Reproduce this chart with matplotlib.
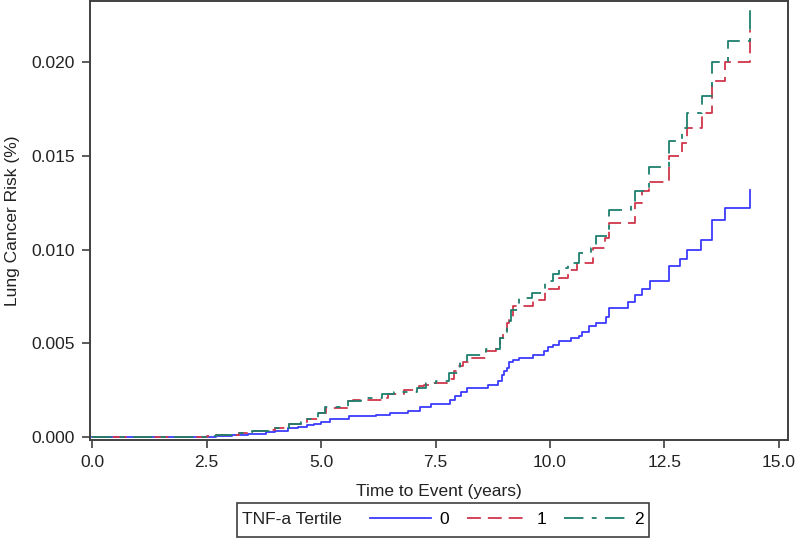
import numpy as np
import matplotlib
matplotlib.use("Agg")
import matplotlib.pyplot as plt
import matplotlib.ticker as mticker
from matplotlib.patches import Rectangle

plt.rcParams["font.family"] = ["Liberation Sans", "DejaVu Sans"]
plt.rcParams["lines.scale_dashes"] = False

# tertile 0
t0 = [0, 2.5, 2.7, 3.05, 3.4, 3.8, 4.0, 4.28, 4.5, 4.7, 4.85, 5.0, 5.2, 5.6, 6.2,
      6.5, 6.9, 7.17, 7.4, 7.82, 7.93, 8.05, 8.18, 8.65, 8.87, 8.95, 9.0, 9.05,
      9.1, 9.2, 9.33, 9.63, 9.87, 9.95, 10.06, 10.2, 10.45, 10.63, 10.7, 10.85,
      11.0, 11.22, 11.28, 11.7, 11.86, 12.0, 12.18, 12.6, 12.85, 13.0, 13.3,
      13.53, 13.83, 14.37]
r0 = [0, 0.00003, 0.00007, 0.0001, 0.00015, 0.00027, 0.00035, 0.00048, 0.00055,
      0.00064, 0.00072, 0.0008, 0.00096, 0.0011, 0.0012, 0.0013, 0.0014, 0.0016,
      0.00176, 0.002, 0.0022, 0.0024, 0.0026, 0.0028, 0.003, 0.0033, 0.0035,
      0.0037, 0.004, 0.0041, 0.0042, 0.0044, 0.0046, 0.0048, 0.0049, 0.0051,
      0.0053, 0.0054, 0.0056, 0.0059, 0.0061, 0.0064, 0.0069, 0.0072, 0.0076,
      0.0079, 0.0083, 0.0091, 0.0095, 0.0100, 0.0105, 0.01157, 0.0122, 0.0132]

# tertile 1
t1 = [0, 2.5, 2.7, 3.2, 3.5, 3.9, 4.0, 4.3, 4.57, 4.7, 4.93, 5.1, 5.58, 5.7,
      6.34, 6.45, 6.8, 7.14, 7.25, 7.42, 7.82, 7.9, 8.0, 8.1, 8.25, 8.6, 8.83,
      8.9, 8.97, 9.05, 9.1, 9.2, 9.63, 9.9, 10.2, 10.4, 10.6, 10.95, 11.2, 11.3,
      11.86, 12.0, 12.16, 12.6, 12.88, 12.99, 13.33, 13.53, 13.83, 14.37]
r1 = [0, 0.00005, 0.0001, 0.0002, 0.0003, 0.0004, 0.0005, 0.0007, 0.0008,
      0.00096, 0.0013, 0.00155, 0.0019, 0.002, 0.0021, 0.0023, 0.0025, 0.0027,
      0.0028, 0.0029, 0.0031, 0.0035, 0.0038, 0.0040, 0.0042, 0.0046, 0.0049,
      0.0053, 0.0057, 0.0061, 0.0064, 0.0070, 0.0073, 0.0079, 0.0085, 0.0089,
      0.0093, 0.0101, 0.0106, 0.0114, 0.0125, 0.0131, 0.0136, 0.0150, 0.0157,
      0.0165, 0.0173, 0.0190, 0.0200, 0.0217]

# tertile 2
t2 = [0, 2.5, 2.7, 3.2, 3.5, 3.9, 4.0, 4.3, 4.57, 4.7, 4.93, 5.08, 5.58, 5.87,
      6.34, 6.6, 7.1, 7.3, 7.5, 7.8, 8.03, 8.18, 8.6, 8.9, 9.05, 9.15, 9.33,
      9.6, 9.9, 10.06, 10.2, 10.39, 10.63, 10.9, 11.0, 11.3, 11.78, 11.86, 12.16,
      12.6, 12.88, 12.99, 13.33, 13.53, 13.9, 14.37]
r2 = [0, 0.00005, 0.0001, 0.0002, 0.0003, 0.0004, 0.0005, 0.0007, 0.0008,
      0.00096, 0.0013, 0.0016, 0.0019, 0.0021, 0.0023, 0.0024, 0.0026, 0.0029,
      0.0030, 0.0034, 0.0040, 0.0044, 0.0047, 0.0053, 0.0062, 0.0068, 0.0074,
      0.0077, 0.0083, 0.0087, 0.0090, 0.0093, 0.0098, 0.0101, 0.0107, 0.0121,
      0.0125, 0.0131, 0.0144, 0.0158, 0.0165, 0.0173, 0.0182, 0.0200, 0.0211,
      0.0229]

labels = ["0", "1", "2"]
colors = ["#3b3bff", "#d0364a", "#1e7f6e"]
dashes = [None, (10, 5), (14, 6, 3.5, 6)]

fig = plt.figure(figsize=(8, 5.4), dpi=100)
ax = fig.add_axes([0.1125, 0.185, 0.8725, 0.813])

handles = []
for t, r, c, d, lab in zip([t0, t1, t2], [r0, r1, r2], colors, dashes, labels):
    line, = ax.plot(t, r, drawstyle="steps-post", color=c, linewidth=1.3, label=lab)
    if d is not None:
        line.set_dashes(d)
    handles.append(line)

ax.set_xlim(-0.05, 15.2)
ax.set_ylim(-0.00016, 0.02325)
ax.xaxis.set_major_locator(mticker.MultipleLocator(2.5))
ax.yaxis.set_major_locator(mticker.MultipleLocator(0.005))
ax.xaxis.set_major_formatter(mticker.FormatStrFormatter("%.1f"))
ax.yaxis.set_major_formatter(mticker.FormatStrFormatter("%.3f"))

for s in ax.spines.values():
    s.set_color("#404040")
    s.set_linewidth(1.4)
ax.tick_params(direction="out", length=6, width=1.2, color="#404040",
               labelsize=12.5, labelcolor="#222222", pad=5)

ax.set_xlabel("Time to Event (years)", fontsize=12.5, color="#222222", labelpad=10)
ax.set_ylabel("Lung Cancer Risk (%)", fontsize=12.5, color="#222222", labelpad=8)

# legend box with the title on the left side
fig.patches.append(Rectangle((0.296, 0.006), 0.515, 0.063, transform=fig.transFigure,
                             fill=False, edgecolor="#404040", linewidth=1.2))
fig.text(0.302, 0.0375, "TNF-a Tertile", fontsize=12.5, color="#222222",
         va="center", ha="left")
fig.legend(handles=handles, labels=labels, loc="center left",
           bbox_to_anchor=(0.447, 0.0375), ncol=3, frameon=False,
           fontsize=12.5, handlelength=3.5, handletextpad=0.5,
           columnspacing=1.05, borderpad=0.2)

fig.savefig("out.png", dpi=100)
